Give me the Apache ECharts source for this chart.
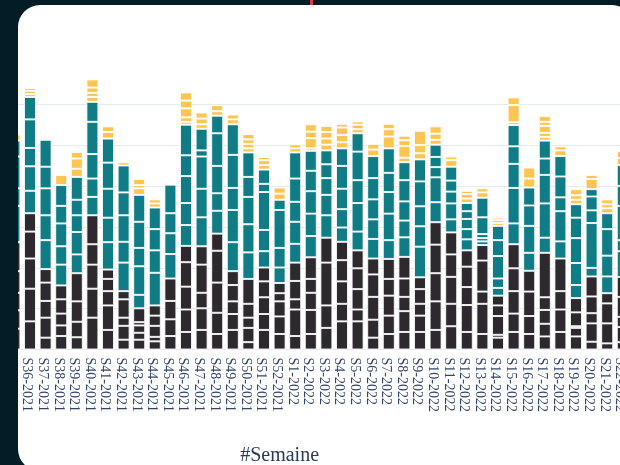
<!DOCTYPE html>
<html>
<head>
<meta charset="utf-8">
<script src="https://cdn.jsdelivr.net/npm/echarts@6/dist/echarts.min.js"></script>
<style>
  html, body { margin: 0; padding: 0; }
  body { width: 620px; height: 465px; overflow: hidden; background: #041c26; position: relative; }
  #mark { position: absolute; left: 310px; top: 0; width: 3px; height: 5px; background: #e23b3b; }
  #card { position: absolute; left: 18px; top: 5px; width: 616px; height: 466px; background: #fff; border-radius: 22px; overflow: hidden; }
  #chart { position: absolute; left: -18px; top: -5px; width: 640px; height: 465px; }
</style>
</head>
<body>
<div id="mark"></div>
<div id="card"><div id="chart"></div></div>
<script>
// Weeks (x axis categories)
const weeks = [
  'S35-2021','S36-2021','S37-2021','S38-2021','S39-2021','S40-2021','S41-2021','S42-2021','S43-2021',
  'S44-2021','S45-2021','S46-2021','S47-2021','S48-2021','S49-2021','S50-2021','S51-2021','S52-2021',
  'S1-2022','S2-2022','S3-2022','S4-2022','S5-2022','S6-2022','S7-2022','S8-2022','S9-2022','S10-2022',
  'S11-2022','S12-2022','S13-2022','S14-2022','S15-2022','S16-2022','S17-2022','S18-2022','S19-2022',
  'S20-2022','S21-2022','S22-2022'
];

// Stacked sub-segments per week (bottom to top) for each colour group
const darkParts = [
  [5.1,4.5,4.3,5.3,7.1],[6.9,8.0,7.4,6.6,4.5],[2.9,4.9,4.1,4.5,3.3],[3.3,2.6,2.9,3.5,3.4],[3.0,3.8,5.0,6.9],
  [7.8,7.1,5.9,5.0,7.1],[4.8,6.0,3.5,3.0,2.3],[2.4,3.4,2.0,4.5,2.0],[2.4,1.7,1.8,0.8,3.4],[2.0,1.1,2.7,2.5,2.5],
  [3.3,4.1,4.5,5.5],[4.3,5.5,5.6,6.0,4.0],[4.8,5.3,3.8,6.9,4.5],[3.8,5.2,7.4,7.8,4.2],[4.8,3.9,3.1,4.0,3.4],
  [1.8,3.5,2.5,3.4,6.1],[4.8,3.9,4.1,3.9,3.4],[3.8,4.3,3.7,2.0,2.5],[3.3,6.5,2.5,4.5,4.5],[3.8,5.9,4.2,3.4,5.3],
  [5.3,5.5,10.5,6.1],[6.9,4.3,5.5,5.2,4.5],[6.9,2.9,5.0,5.1,4.4],[2.9,4.4,5.6,5.5,3.9],[3.8,4.5,4.9,4.1,4.9],
  [4.3,5.1,3.5,4.5,5.3],[4.3,4.0,2.9,3.6,2.9],[4.8,7.0,6.9,7.0,5.5],[5.7,5.5,6.6,5.5,5.4],[4.3,6.6,4.4,5.0,4.0],
  [3.8,7.4,3.0,7.6,3.8],[2.9,0.7,4.6,2.6,2.4],[4.3,4.5,5.5,5.6,5.9],[3.8,4.4,6.0,5.1],[3.2,3.1,3.4,3.1,10.9],
  [4.3,5.5,4.5,8.0],[3.2,2.1,0.4,3.4,3.5],[1.9,4.5,2.5,4.1,4.9],[1.5,4.9,4.9,2.5],[1.8,3.7,2.5,4.9,4.9]
];
const tealParts = [
  [8.9,4.3,7.8,3.9],[5.5,6.0,4.5,7.0,5.5],[7.1,6.1,6.6,5.3,6.6],[5.1,4.5,5.6,4.3,5.1],[4.6,5.5,4.1,3.8,5.6],
  [4.5,4.5,6.0,7.9,4.9],[6.7,6.0,7.1,6.4,5.9],[7.0,5.1,6.5,5.6,6.6],[3.3,7.0,4.5,6.4,6.6],[8.0,5.5,5.2,5.3],
  [6.0,5.1,4.9,7.0],[5.1,5.4,6.6,5.1,7.5],[7.1,7.0,7.9,1.5,5.3],[5.6,4.3,6.7,8.0,4.3],[7.1,7.9,5.4,8.1,7.5],
  [6.5,6.9,6.7,4.9,6.0],[4.0,5.2,9.3,2.0,3.5],[3.8,4.8,9.3,2.5],[4.6,5.4,4.9,5.7,6.4],[5.2,5.5,5.5,5.0,4.9],
  [5.5,5.0,4.1,3.4,3.4],[3.5,4.5,5.0,5.6,4.3],[4.6,7.0,5.6,7.0,4.5],[4.8,4.8,4.9,5.2,5.4],[4.6,6.5,5.3,4.7,6.0],
  [4.8,4.1,4.7,5.2,4.4],[7.5,5.0,4.9,6.1,5.4],[4.9,6.1,2.5,2.5,3.0],[3.2,3.9,2.9,2.7,3.4],[2.7,2.5,2.5,1.9,2.0],
  [0.9,0.8,1.0,4.1,4.8],[1.9,2.3,5.5,3.9,3.5],[5.1,8.7,5.9,4.3,5.2],[4.4,6.6,5.0,4.4],[3.7,8.4,7.0,4.0,4.4],
  [4.2,7.4,3.4,5.1,5.0],[3.2,5.4,6.1,5.0,3.3],[2.1,11.0,3.1,3.4,1.8],[4.1,5.1,6.5,3.9],[6.3,2.7,8.4,4.9,5.1]
];
const yellowParts = [
  [1.5],[0.7,0.8,0.7],[0.4],[2.5],[2.0,2.5,1.6],
  [1.2,1.0,1.3,2.0],[1.6,1.4],[0.8],[1.6,0.8,1.5],[1.0,1.0],
  [],[0.7,1.1,2.2,1.9,2.0],[1.1,1.4,1.5],[1.1,1.5],[1.2,1.2],
  [1.0,1.1,1.1,1.3],[1.1,1.2,0.8],[1.5,1.5],[1.0,1.0],[0.6,2.5,1.6,1.8],
  [1.4,1.5,1.6,1.5],[1.5,1.8,1.8,0.9],[1.0,1.1,0.8],[1.6,1.4],[2.9,1.8,1.3],
  [1.1,2.9,1.4,1.1],[1.5,2.0,3.5],[1.2,1.5,1.8],[1.6,0.9],[1.1,1.1,0.8],
  [1.3,1.0],[0.7,0.7,0.6],[0.7,4.2,1.9],[2.2,2.7],[0.9,1.0,1.7,1.0,1.4],
  [1.4,1.0],[1.1,1.1,1.5],[2.5,1.0],[1.2,1.0,1.2],[1.7,1.7]
];

const groupColors = { dark: '#2e292e', teal: '#0f7c86', yellow: '#ffc553' };

function buildSeries(parts, color, name) {
  const n = Math.max(...parts.map(p => p.length));
  const out = [];
  for (let k = 0; k < n; k++) {
    out.push({
      name: name + ' ' + (k + 1),
      type: 'bar',
      stack: 'total',
      barCategoryGap: '23%',
      data: parts.map(p => (k < p.length ? p[k] : '-')),
      itemStyle: { color: color, borderColor: 'rgba(255,255,255,0.85)', borderWidth: 1 },
      emphasis: { disabled: true },
      silent: true
    });
  }
  return out;
}

const series = [].concat(
  buildSeries(darkParts, groupColors.dark, 'A'),
  buildSeries(tealParts, groupColors.teal, 'B'),
  buildSeries(yellowParts, groupColors.yellow, 'C')
);

const chart = echarts.init(document.getElementById('chart'), null, { renderer: 'canvas' });
chart.setOption({
  animation: false,
  grid: { left: 6.6, right: 9.4, top: 63.9, bottom: 115.5, containLabel: false, outerBoundsMode: 'none' },
  xAxis: {
    type: 'category',
    data: weeks,
    name: '#Semaine',
    nameLocation: 'middle',
    nameGap: 96,
    nameTextStyle: { fontFamily: 'Liberation Serif', fontSize: 20, color: '#2a3a5a', padding: [0, 78, 0, 0] },
    axisLine: { show: false },
    axisTick: { show: false },
    axisLabel: { interval: 0, rotate: -90, margin: 8, verticalAlign: 'top', lineHeight: 6, fontFamily: 'Liberation Serif', fontSize: 14, color: '#33466a' }
  },
  yAxis: {
    type: 'value',
    min: 0, max: 70, interval: 10,
    axisLabel: { show: false },
    axisLine: { show: false },
    axisTick: { show: false },
    splitLine: { show: true, showMaxLine: false, lineStyle: { color: '#e4ebee', width: 1 } }
  },
  series: series
});
</script>
</body>
</html>
